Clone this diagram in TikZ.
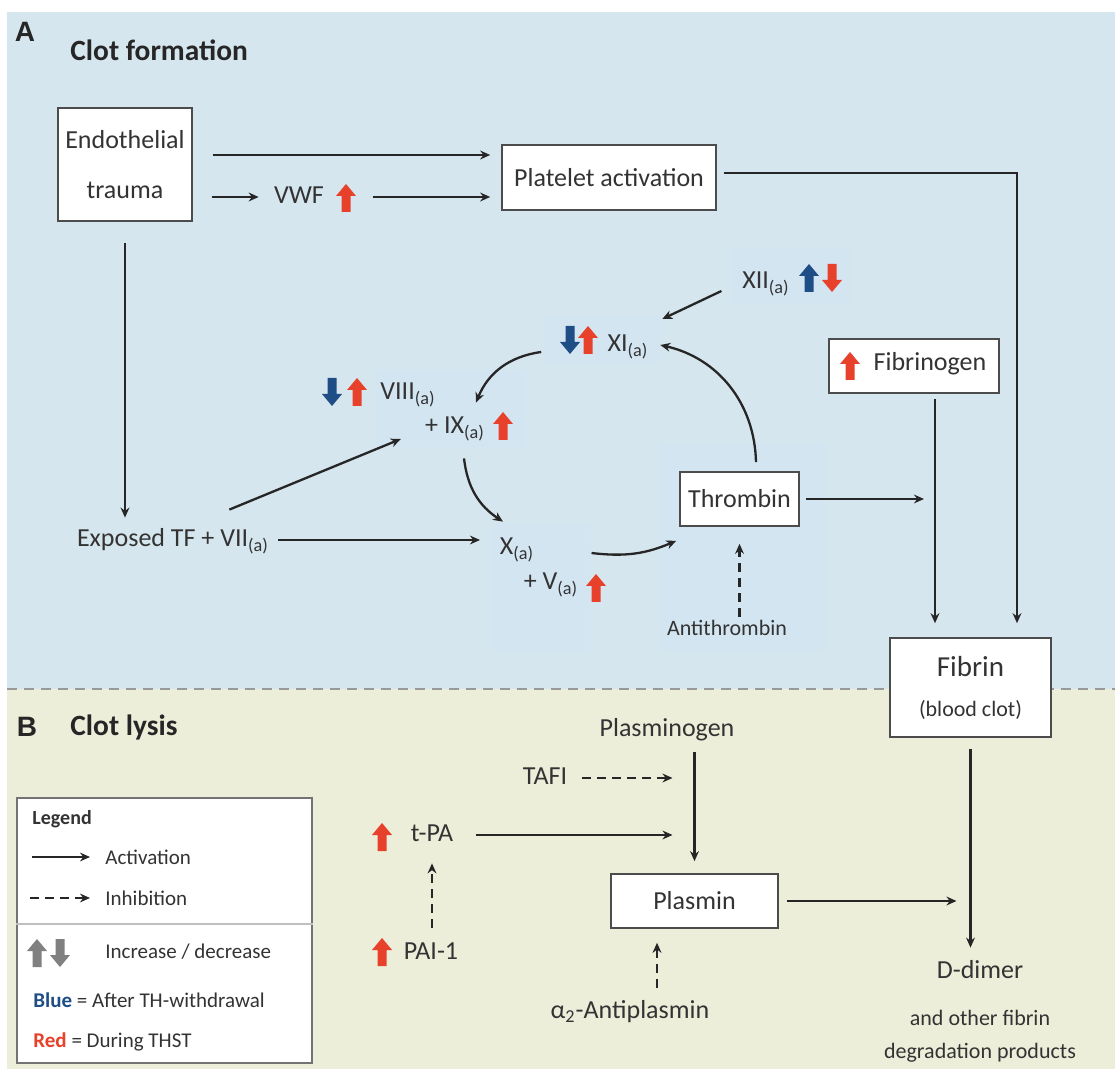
\documentclass[tikz,border=0pt]{standalone}
\usepackage{fontspec}
\setmainfont{Carlito}
\newfontfamily\hdfont{Liberation Sans}
\usetikzlibrary{arrows.meta,calc}

\definecolor{bgblue}{HTML}{D6E6EE}
\definecolor{bgbeige}{HTML}{ECEED9}
\definecolor{patch}{HTML}{D4E5F2}
\definecolor{txt}{HTML}{333333}
\definecolor{upred}{HTML}{E8412B}
\definecolor{dnblue}{HTML}{1F4E86}
\definecolor{legray}{HTML}{808080}

\tikzset{
	box/.style={draw=black!70, line width=0.8pt, fill=white, text=txt, inner sep=0pt, align=center, font=\fontsize{13}{25}\selectfont},
	lbl/.style={text=txt, inner sep=0pt, text height=9pt, text depth=2.5pt, font=\fontsize{13}{15}\selectfont},
	small/.style={text=txt, inner sep=0pt, text height=7.6pt, text depth=2.1pt, font=\fontsize{11}{13}\selectfont},
	lgt/.style={text=txt, inner sep=0pt, anchor=west, font=\fontsize{10.5}{12}\selectfont},
	hd/.style={text=black!85, inner sep=0pt, font=\hdfont\bfseries\fontsize{14}{16}\selectfont},
	ttl/.style={text=black!85, inner sep=0pt, anchor=west, font=\bfseries\fontsize{14.7}{17}\selectfont},
	act/.style={draw=black!85, line width=1.15pt, -{Stealth[length=5pt,width=4.4pt]}},
	inh/.style={act, dash pattern=on 4.5pt off 3pt},
	upar/.pic={\path[pic actions] (0,-14) -- (10,-2) -- (4.5,-2) -- (4.5,14) -- (-4.5,14) -- (-4.5,-2) -- (-10,-2) -- cycle;},
	dnar/.pic={\path[pic actions] (0,14) -- (10,2) -- (4.5,2) -- (4.5,-14) -- (-4.5,-14) -- (-4.5,2) -- (-10,2) -- cycle;}
}

\begin{document}
\begin{tikzpicture}[x=0.5pt,y=-0.5pt]
	\useasboundingbox (0,0) rectangle (1115,1069);
	\fill[white] (0,0) rectangle (1115,1069);
	\fill[bgblue] (7,12) rectangle (1115,689);
	\fill[bgbeige] (7,689) rectangle (1115,1069);
	\fill[patch] (731,248) rectangle (850,305);
	\fill[patch] (544,316) rectangle (660,362);
	\fill[patch] (376,370) rectangle (526,447);
	\fill[patch] (491,523) rectangle (591,650);
	\fill[patch] (659,443) rectangle (826,650);
	\draw[black!40, line width=1pt, dash pattern=on 5pt off 3.5pt] (7,689) -- (1115,689);

	\node[hd] (pa) at (25,32) {A};
	\node[ttl] (cfm) at (70,50) {Clot formation};
	\node[hd] (pb) at (27,727) {B};
	\node[ttl] (clys) at (70,727) {Clot lysis};

	\node[box, minimum width=67pt, minimum height=56.5pt] (endo) at (125,164.5) {Endothelial\\trauma};
	\node[box, minimum width=107pt, minimum height=32.5pt] (plat) at (609,177.5) {Platelet activation};
	\node[lbl] (vwf) at (299,197) {VWF};
	\pic[fill=upred] at (346,198) {upar};
	\node[lbl] (expo) at (173,540) {Exposed TF + VII\textsubscript{(a)}};

	\node[lbl] (xii) at (766,282) {XII\textsubscript{(a)}};
	\pic[fill=dnblue] at (809,278) {upar};
	\pic[fill=upred] at (832,278) {dnar};
	\node[lbl] (xi) at (628,345) {XI\textsubscript{(a)}};
	\pic[fill=dnblue] at (570,340) {dnar};
	\pic[fill=upred] at (588,340) {upar};
	\node[lbl] (viii) at (408,393) {VIII\textsubscript{(a)}};
	\pic[fill=dnblue] at (332,392) {dnar};
	\pic[fill=upred] at (357,392) {upar};
	\node[lbl] (ix) at (455,427) {+ IX\textsubscript{(a)}};
	\pic[fill=upred] at (503,426) {upar};
	\node[lbl] (xa) at (517,548) {X\textsubscript{(a)}};
	\node[lbl] (va) at (551,583) {+ V\textsubscript{(a)}};
	\pic[fill=upred] at (596,588) {upar};
	\node[box, minimum width=59.5pt, minimum height=27pt] (thr) at (739.5,499) {Thrombin};
	\node[small] (athr) at (727,630) {Antithrombin};

	\node[box, minimum width=85pt, minimum height=27pt] (fgbox) at (914,366) {};
	\pic[fill=upred] at (850,366) {upar};
	\node[lbl] (fgn) at (930,364) {Fibrinogen};
	\coordinate (fgout) at ([xshift=10.5pt]fgbox.south);
	\node[box, minimum width=80.5pt, minimum height=49.5pt, font=\fontsize{11}{20}\selectfont] (fib) at (970.5,687.5) {{\fontsize{14.5}{20}\selectfont Fibrin}\\(blood clot)};

	\node[lbl] (plg) at (667,730) {Plasminogen};
	\node[lbl] (tafi) at (545,778) {TAFI};
	\node[lbl] (tpa) at (432,835) {t-PA};
	\pic[fill=upred] at (382,837) {upar};
	\node[lbl] (pai) at (431,953) {PAI-1};
	\pic[fill=upred] at (382,952) {upar};
	\node[box, minimum width=83.5pt, minimum height=27pt] (pls) at (694.5,901) {Plasmin};
	\node[lbl] (a2ap) at (630,1012) {α\textsubscript{2}-Antiplasmin};
	\coordinate (a2top) at ($(a2ap.north)+(27,0)$);
	\node[lbl] (ddim) at (980,972) {D-dimer};
	\node[small, align=center, text height=, text depth=, font=\fontsize{11}{16.5}\selectfont] (ddnote) at (980,1036) {and other fibrin\\degradation products};

	\node[draw=black!55, line width=0.6pt, fill=white, minimum width=147.5pt, minimum height=132.5pt, inner sep=0pt] (lgbox) at (164.5,930.5) {};
	\draw[black!25, line width=0.6pt] ($(lgbox.west)+(0,-6.5)$) -- ($(lgbox.east)+(0,-6.5)$);
	\node[lgt, font=\bfseries\fontsize{10}{12}\selectfont] (lgttl) at (32,819) {Legend};
	\node[lgt] (lgact) at (105,857) {Activation};
	\node[lgt] (lginh) at (105,898) {Inhibition};
	\node[lgt] (lgid) at (105,952) {Increase / decrease};
	\pic[fill=legray] at (37,953) {upar};
	\pic[fill=legray] at (60,953) {dnar};
	\node[lgt] (lgblue) at (33,1000) {\textcolor{dnblue}{\bfseries Blue} = After TH-withdrawal};
	\node[lgt] (lgred) at (33,1042) {\textcolor{upred}{\bfseries Red} = During THST};
	\draw[act] ($(lgact.west)+(-73,0)$) -- ($(lgact.west)+(-15,0)$);
	\draw[inh] ($(lginh.west)+(-75,0)$) -- ($(lginh.west)+(-15,0)$);

	\draw[act, shorten <=10pt, shorten >=5.5pt] ([yshift=4.75pt]endo.east) -- ([yshift=11.25pt]plat.west);
	\draw[act, shorten <=9.5pt, shorten >=7.5pt] ([yshift=-16.25pt]endo.east) -- (vwf.west);
	\draw[act, shorten <=24.5pt, shorten >=5.5pt] (vwf.east) -- ([yshift=-9.75pt]plat.west);
	\draw[act, shorten <=3.5pt, shorten >=7pt] ([yshift=2.25pt]plat.east) -| ([xshift=23.25pt]fib.north);
	\draw[act, shorten <=10.5pt, shorten >=5.25pt] (endo.south) -- (endo.south |- expo.north);
	\draw[act] ($(expo.north east)+(-40,-18.5)$) -- ($(ix.west)+(-24,12)$);
	\draw[act, shorten <=4.5pt, shorten >=9.75pt] (expo.east) -- (expo.east -| xa.west);

	\draw[act] ($(xii.west)+(-20.5,9)$) -- ($(xi.east)+(13.5,-26)$);
	\draw[act] ($(xi.west)+(-66,7)$) to[bend right=30] ($(ix.north)+(21,-12.5)$);
	\draw[act] ($(ix.south)+(9,19.5)$) to[bend right=25] ($(xa.north)+(-14,-14.5)$);
	\draw[act] ($(xa.east)+(57,5)$) to[bend right=15] ($(thr.south west)+(-3,14)$);
	\draw[act] ($(thr.north)+(16.5,-9)$) to[bend right=38] ($(xi.east)+(11.5,0)$);
	\draw[inh, shorten <=1.65pt, shorten >=8.5pt] (thr.south |- athr.north) -- (thr.south);
	\draw[act, shorten <=3pt, shorten >=5.5pt] (thr.east) -- (thr.east -| fgout);
	\draw[act, shorten <=2.5pt, shorten >=7pt] (fgout) -- (fgout |- fib.north);

	\draw[act, shorten <=5.5pt, shorten >=6.25pt] (fib.south) -- (fib.south |- ddim.north);
	\draw[act, shorten <=4pt, shorten >=7pt] (pls.east) -- (pls.east -| fib.south);
	\draw[act, shorten <=5.25pt, shorten >=6pt] (pls.north |- plg.south) -- (pls.north);
	\draw[inh, shorten <=7.5pt, shorten >=11pt] (tafi.east) -- (tafi.east -| pls.north);
	\draw[act, shorten <=11pt, shorten >=11pt] (tpa.east) -- (tpa.east -| pls.north);
	\draw[inh, shorten <=6.75pt, shorten >=8.25pt] (tpa.south |- pai.north) -- (tpa.south);
	\draw[inh, shorten <=6.25pt, shorten >=7pt] (a2top) -- (a2top |- pls.south);
\end{tikzpicture}
\end{document}
